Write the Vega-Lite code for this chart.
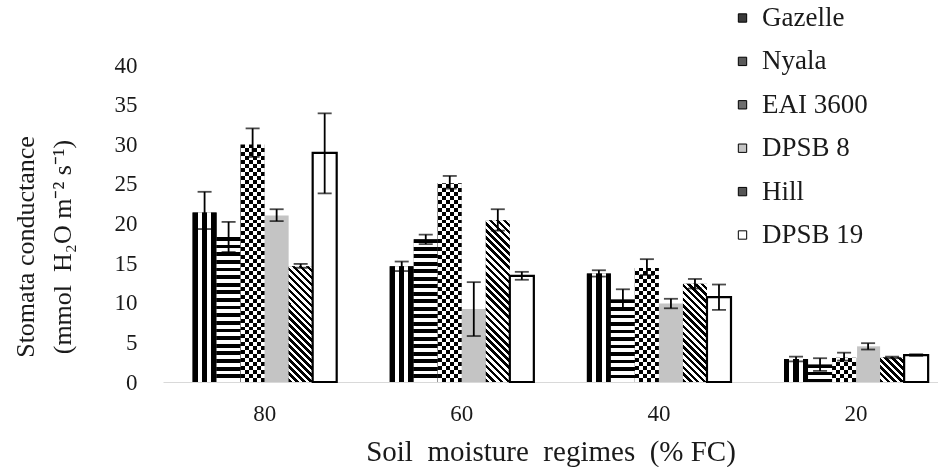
{
  "$schema": "https://vega.github.io/schema/vega-lite/v6.json",
  "width": 775,
  "height": 317,
  "autosize": {"type": "none"},
  "padding": {"left": 163, "top": 65, "right": 0, "bottom": 85},
  "background": "white",
  "config": {
    "view": {"stroke": null},
    "font": "Liberation Serif",
    "axisX": {"domainColor": "#d9d9d9", "domainWidth": 1, "ticks": false, "tickSize": 0, "grid": false, "labelFont": "Liberation Serif", "labelFontSize": 23, "labelColor": "#1a1a1a", "labelPadding": 38, "labelBaseline": "alphabetic", "labelAngle": 0, "titleFont": "Liberation Serif", "titleFontSize": 29, "titleFontWeight": "normal", "titleColor": "#1a1a1a", "titleBaseline": "alphabetic", "titleY": 78},
    "axisY": {"domain": false, "ticks": false, "tickSize": 0, "grid": false, "labelFont": "Liberation Serif", "labelFontSize": 23, "labelColor": "#1a1a1a", "labelPadding": 26, "titleFont": "Liberation Serif", "titleFontSize": 26, "titleFontWeight": "normal", "titleColor": "#1a1a1a", "titleLineHeight": 37, "titleX": -130, "titleY": 181.5, "titleBaseline": "alphabetic", "titleAlign": "center"}
  },
  "data": {"values": [
    {"regime": "80", "variety": "Gazelle", "mean": 21.4, "lo": 19.3, "hi": 24.0},
    {"regime": "80", "variety": "Nyala", "mean": 18.3, "lo": 16.4, "hi": 20.2},
    {"regime": "80", "variety": "EAI 3600", "mean": 30.1, "lo": 28.4, "hi": 32.0},
    {"regime": "80", "variety": "DPSB 8", "mean": 21.0, "lo": 20.3, "hi": 21.8},
    {"regime": "80", "variety": "Hill", "mean": 14.6, "lo": 14.4, "hi": 14.9},
    {"regime": "80", "variety": "DPSB 19", "mean": 28.9, "lo": 23.8, "hi": 33.9},
    {"regime": "60", "variety": "Gazelle", "mean": 14.6, "lo": 14.0, "hi": 15.2},
    {"regime": "60", "variety": "Nyala", "mean": 18.0, "lo": 17.4, "hi": 18.6},
    {"regime": "60", "variety": "EAI 3600", "mean": 25.2, "lo": 24.4, "hi": 26.0},
    {"regime": "60", "variety": "DPSB 8", "mean": 9.2, "lo": 5.8, "hi": 12.6},
    {"regime": "60", "variety": "Hill", "mean": 20.4, "lo": 19.1, "hi": 21.8},
    {"regime": "60", "variety": "DPSB 19", "mean": 13.4, "lo": 12.9, "hi": 13.9},
    {"regime": "40", "variety": "Gazelle", "mean": 13.7, "lo": 13.3, "hi": 14.1},
    {"regime": "40", "variety": "Nyala", "mean": 10.4, "lo": 9.2, "hi": 11.7},
    {"regime": "40", "variety": "EAI 3600", "mean": 14.5, "lo": 13.5, "hi": 15.5},
    {"regime": "40", "variety": "DPSB 8", "mean": 9.9, "lo": 9.3, "hi": 10.5},
    {"regime": "40", "variety": "Hill", "mean": 12.4, "lo": 11.8, "hi": 13.0},
    {"regime": "40", "variety": "DPSB 19", "mean": 10.7, "lo": 9.1, "hi": 12.3},
    {"regime": "20", "variety": "Gazelle", "mean": 2.9, "lo": 2.6, "hi": 3.2},
    {"regime": "20", "variety": "Nyala", "mean": 2.2, "lo": 1.4, "hi": 3.0},
    {"regime": "20", "variety": "EAI 3600", "mean": 3.2, "lo": 2.7, "hi": 3.7},
    {"regime": "20", "variety": "DPSB 8", "mean": 4.5, "lo": 4.1, "hi": 4.9},
    {"regime": "20", "variety": "Hill", "mean": 3.1, "lo": 3.0, "hi": 3.2},
    {"regime": "20", "variety": "DPSB 19", "mean": 3.4, "lo": 3.3, "hi": 3.5}
  ]},
  "encoding": {
    "x": {"field": "regime", "type": "nominal", "sort": ["80", "60", "40", "20"], "scale": {"domain": ["80", "60", "40", "20"], "paddingInner": 0.269, "paddingOuter": 0.1, "align": 0.75}, "axis": {"title": "Soil\u00a0 moisture\u00a0 regimes\u00a0 (% FC)"}},
    "xOffset": {"field": "variety", "type": "nominal", "sort": ["Gazelle", "Nyala", "EAI 3600", "DPSB 8", "Hill", "DPSB 19"], "scale": {"domain": ["Gazelle", "Nyala", "EAI 3600", "DPSB 8", "Hill", "DPSB 19"], "paddingInner": 0, "paddingOuter": 0}},
    "y": {"field": "mean", "type": "quantitative", "scale": {"domain": [0, 40], "nice": false, "zero": true}, "axis": {"title": ["Stomata conductance", "(mmol\u00a0 H₂O m⁻² s⁻¹)"], "values": [0, 5, 10, 15, 20, 25, 30, 35, 40]}}
  },
  "layer": [
    {
      "mark": {"type": "bar"},
      "encoding": {
        "fill": {"field": "variety", "type": "nominal", "scale": {"domain": ["Gazelle", "Nyala", "EAI 3600", "DPSB 8", "Hill", "DPSB 19"], "range": ["#3a3a3a", "#5a5a5a", "#6e6e6e", "#c4c4c4", "#555555", "#ffffff"]}, "legend": {"orient": "none", "legendX": 566, "legendY": -60.5, "title": null, "symbolType": "square", "symbolSize": 70, "symbolStrokeColor": "#000", "symbolStrokeWidth": 1, "labelFont": "Liberation Serif", "labelFontSize": 27, "labelColor": "#1a1a1a", "rowPadding": 15.4, "labelOffset": 6, "padding": 0}}
      }
    },
    {
      "transform": [{"filter": "datum.variety === 'Gazelle'"}],
      "mark": {"type": "bar", "fill": {"gradient": "linear", "x1": 0, "y1": 0, "x2": 1, "y2": 0, "stops": [
        {"offset": 0, "color": "#000"}, {"offset": 0.22, "color": "#000"}, {"offset": 0.22, "color": "#fff"}, {"offset": 0.39, "color": "#fff"}, {"offset": 0.39, "color": "#000"}, {"offset": 0.61, "color": "#000"}, {"offset": 0.61, "color": "#fff"}, {"offset": 0.78, "color": "#fff"}, {"offset": 0.78, "color": "#000"}, {"offset": 1, "color": "#000"}]}}
    },
    {
      "transform": [{"filter": "datum.variety === 'Nyala' && (datum.regime === '80' || datum.regime === '60')"}],
      "mark": {"type": "bar", "fill": {"gradient": "linear", "x1": 0, "y1": 0, "x2": 0, "y2": 1, "stops": [
        {"offset": 0, "color": "#000"}, {"offset": 0.0263, "color": "#000"},
        {"offset": 0.0263, "color": "#fff"}, {"offset": 0.0526, "color": "#fff"},
        {"offset": 0.0526, "color": "#000"}, {"offset": 0.0789, "color": "#000"},
        {"offset": 0.0789, "color": "#fff"}, {"offset": 0.1053, "color": "#fff"},
        {"offset": 0.1053, "color": "#000"}, {"offset": 0.1316, "color": "#000"},
        {"offset": 0.1316, "color": "#fff"}, {"offset": 0.1579, "color": "#fff"},
        {"offset": 0.1579, "color": "#000"}, {"offset": 0.1842, "color": "#000"},
        {"offset": 0.1842, "color": "#fff"}, {"offset": 0.2105, "color": "#fff"},
        {"offset": 0.2105, "color": "#000"}, {"offset": 0.2368, "color": "#000"},
        {"offset": 0.2368, "color": "#fff"}, {"offset": 0.2632, "color": "#fff"},
        {"offset": 0.2632, "color": "#000"}, {"offset": 0.2895, "color": "#000"},
        {"offset": 0.2895, "color": "#fff"}, {"offset": 0.3158, "color": "#fff"},
        {"offset": 0.3158, "color": "#000"}, {"offset": 0.3421, "color": "#000"},
        {"offset": 0.3421, "color": "#fff"}, {"offset": 0.3684, "color": "#fff"},
        {"offset": 0.3684, "color": "#000"}, {"offset": 0.3947, "color": "#000"},
        {"offset": 0.3947, "color": "#fff"}, {"offset": 0.4211, "color": "#fff"},
        {"offset": 0.4211, "color": "#000"}, {"offset": 0.4474, "color": "#000"},
        {"offset": 0.4474, "color": "#fff"}, {"offset": 0.4737, "color": "#fff"},
        {"offset": 0.4737, "color": "#000"}, {"offset": 0.5, "color": "#000"},
        {"offset": 0.5, "color": "#fff"}, {"offset": 0.5263, "color": "#fff"},
        {"offset": 0.5263, "color": "#000"}, {"offset": 0.5526, "color": "#000"},
        {"offset": 0.5526, "color": "#fff"}, {"offset": 0.5789, "color": "#fff"},
        {"offset": 0.5789, "color": "#000"}, {"offset": 0.6053, "color": "#000"},
        {"offset": 0.6053, "color": "#fff"}, {"offset": 0.6316, "color": "#fff"},
        {"offset": 0.6316, "color": "#000"}, {"offset": 0.6579, "color": "#000"},
        {"offset": 0.6579, "color": "#fff"}, {"offset": 0.6842, "color": "#fff"},
        {"offset": 0.6842, "color": "#000"}, {"offset": 0.7105, "color": "#000"},
        {"offset": 0.7105, "color": "#fff"}, {"offset": 0.7368, "color": "#fff"},
        {"offset": 0.7368, "color": "#000"}, {"offset": 0.7632, "color": "#000"},
        {"offset": 0.7632, "color": "#fff"}, {"offset": 0.7895, "color": "#fff"},
        {"offset": 0.7895, "color": "#000"}, {"offset": 0.8158, "color": "#000"},
        {"offset": 0.8158, "color": "#fff"}, {"offset": 0.8421, "color": "#fff"},
        {"offset": 0.8421, "color": "#000"}, {"offset": 0.8684, "color": "#000"},
        {"offset": 0.8684, "color": "#fff"}, {"offset": 0.8947, "color": "#fff"},
        {"offset": 0.8947, "color": "#000"}, {"offset": 0.9211, "color": "#000"},
        {"offset": 0.9211, "color": "#fff"}, {"offset": 0.9474, "color": "#fff"},
        {"offset": 0.9474, "color": "#000"}, {"offset": 0.9737, "color": "#000"},
        {"offset": 0.9737, "color": "#fff"}, {"offset": 1, "color": "#fff"}]}}
    },
    {
      "transform": [{"filter": "datum.variety === 'Nyala' && datum.regime === '40'"}],
      "mark": {"type": "bar", "fill": {"gradient": "linear", "x1": 0, "y1": 0, "x2": 0, "y2": 1, "stops": [
        {"offset": 0, "color": "#000"}, {"offset": 0.0455, "color": "#000"},
        {"offset": 0.0455, "color": "#fff"}, {"offset": 0.0909, "color": "#fff"},
        {"offset": 0.0909, "color": "#000"}, {"offset": 0.1364, "color": "#000"},
        {"offset": 0.1364, "color": "#fff"}, {"offset": 0.1818, "color": "#fff"},
        {"offset": 0.1818, "color": "#000"}, {"offset": 0.2273, "color": "#000"},
        {"offset": 0.2273, "color": "#fff"}, {"offset": 0.2727, "color": "#fff"},
        {"offset": 0.2727, "color": "#000"}, {"offset": 0.3182, "color": "#000"},
        {"offset": 0.3182, "color": "#fff"}, {"offset": 0.3636, "color": "#fff"},
        {"offset": 0.3636, "color": "#000"}, {"offset": 0.4091, "color": "#000"},
        {"offset": 0.4091, "color": "#fff"}, {"offset": 0.4545, "color": "#fff"},
        {"offset": 0.4545, "color": "#000"}, {"offset": 0.5, "color": "#000"},
        {"offset": 0.5, "color": "#fff"}, {"offset": 0.5455, "color": "#fff"},
        {"offset": 0.5455, "color": "#000"}, {"offset": 0.5909, "color": "#000"},
        {"offset": 0.5909, "color": "#fff"}, {"offset": 0.6364, "color": "#fff"},
        {"offset": 0.6364, "color": "#000"}, {"offset": 0.6818, "color": "#000"},
        {"offset": 0.6818, "color": "#fff"}, {"offset": 0.7273, "color": "#fff"},
        {"offset": 0.7273, "color": "#000"}, {"offset": 0.7727, "color": "#000"},
        {"offset": 0.7727, "color": "#fff"}, {"offset": 0.8182, "color": "#fff"},
        {"offset": 0.8182, "color": "#000"}, {"offset": 0.8636, "color": "#000"},
        {"offset": 0.8636, "color": "#fff"}, {"offset": 0.9091, "color": "#fff"},
        {"offset": 0.9091, "color": "#000"}, {"offset": 0.9545, "color": "#000"},
        {"offset": 0.9545, "color": "#fff"}, {"offset": 1, "color": "#fff"}]}}
    },
    {
      "transform": [{"filter": "datum.variety === 'Nyala' && datum.regime === '20'"}],
      "mark": {"type": "bar", "fill": {"gradient": "linear", "x1": 0, "y1": 0, "x2": 0, "y2": 1, "stops": [
        {"offset": 0, "color": "#000"}, {"offset": 0.2, "color": "#000"}, {"offset": 0.2, "color": "#fff"}, {"offset": 0.4, "color": "#fff"}, {"offset": 0.4, "color": "#000"}, {"offset": 0.6, "color": "#000"}, {"offset": 0.6, "color": "#fff"}, {"offset": 0.8, "color": "#fff"}, {"offset": 0.8, "color": "#000"}, {"offset": 1, "color": "#000"}]}}
    },
    {
      "transform": [{"filter": "datum.variety === 'EAI 3600'"}],
      "mark": {"type": "bar", "fill": {"gradient": "linear", "x1": 0, "y1": 0, "x2": 1, "y2": 0, "stops": [
        {"offset": 0, "color": "#000"}, {"offset": 0.1667, "color": "#000"},
        {"offset": 0.1667, "color": "#fff"}, {"offset": 0.3333, "color": "#fff"},
        {"offset": 0.3333, "color": "#000"}, {"offset": 0.5, "color": "#000"},
        {"offset": 0.5, "color": "#fff"}, {"offset": 0.6667, "color": "#fff"},
        {"offset": 0.6667, "color": "#000"}, {"offset": 0.8333, "color": "#000"},
        {"offset": 0.8333, "color": "#fff"}, {"offset": 1, "color": "#fff"}]}},
      "encoding": {"y": {"datum": 40, "type": "quantitative"}, "y2": {"datum": 0}}
    },
    {
      "transform": [{"filter": "datum.variety === 'EAI 3600'"}],
      "mark": {"type": "bar", "blend": "difference", "fill": {"gradient": "linear", "x1": 0, "y1": 0, "x2": 0, "y2": 1, "stops": [
        {"offset": 0, "color": "#000"}, {"offset": 0.0125, "color": "#000"}, {"offset": 0.0125, "color": "#fff"}, {"offset": 0.025, "color": "#fff"},
        {"offset": 0.025, "color": "#000"}, {"offset": 0.0375, "color": "#000"}, {"offset": 0.0375, "color": "#fff"}, {"offset": 0.05, "color": "#fff"},
        {"offset": 0.05, "color": "#000"}, {"offset": 0.0625, "color": "#000"}, {"offset": 0.0625, "color": "#fff"}, {"offset": 0.075, "color": "#fff"},
        {"offset": 0.075, "color": "#000"}, {"offset": 0.0875, "color": "#000"}, {"offset": 0.0875, "color": "#fff"}, {"offset": 0.1, "color": "#fff"},
        {"offset": 0.1, "color": "#000"}, {"offset": 0.1125, "color": "#000"}, {"offset": 0.1125, "color": "#fff"}, {"offset": 0.125, "color": "#fff"},
        {"offset": 0.125, "color": "#000"}, {"offset": 0.1375, "color": "#000"}, {"offset": 0.1375, "color": "#fff"}, {"offset": 0.15, "color": "#fff"},
        {"offset": 0.15, "color": "#000"}, {"offset": 0.1625, "color": "#000"}, {"offset": 0.1625, "color": "#fff"}, {"offset": 0.175, "color": "#fff"},
        {"offset": 0.175, "color": "#000"}, {"offset": 0.1875, "color": "#000"}, {"offset": 0.1875, "color": "#fff"}, {"offset": 0.2, "color": "#fff"},
        {"offset": 0.2, "color": "#000"}, {"offset": 0.2125, "color": "#000"}, {"offset": 0.2125, "color": "#fff"}, {"offset": 0.225, "color": "#fff"},
        {"offset": 0.225, "color": "#000"}, {"offset": 0.2375, "color": "#000"}, {"offset": 0.2375, "color": "#fff"}, {"offset": 0.25, "color": "#fff"},
        {"offset": 0.25, "color": "#000"}, {"offset": 0.2625, "color": "#000"}, {"offset": 0.2625, "color": "#fff"}, {"offset": 0.275, "color": "#fff"},
        {"offset": 0.275, "color": "#000"}, {"offset": 0.2875, "color": "#000"}, {"offset": 0.2875, "color": "#fff"}, {"offset": 0.3, "color": "#fff"},
        {"offset": 0.3, "color": "#000"}, {"offset": 0.3125, "color": "#000"}, {"offset": 0.3125, "color": "#fff"}, {"offset": 0.325, "color": "#fff"},
        {"offset": 0.325, "color": "#000"}, {"offset": 0.3375, "color": "#000"}, {"offset": 0.3375, "color": "#fff"}, {"offset": 0.35, "color": "#fff"},
        {"offset": 0.35, "color": "#000"}, {"offset": 0.3625, "color": "#000"}, {"offset": 0.3625, "color": "#fff"}, {"offset": 0.375, "color": "#fff"},
        {"offset": 0.375, "color": "#000"}, {"offset": 0.3875, "color": "#000"}, {"offset": 0.3875, "color": "#fff"}, {"offset": 0.4, "color": "#fff"},
        {"offset": 0.4, "color": "#000"}, {"offset": 0.4125, "color": "#000"}, {"offset": 0.4125, "color": "#fff"}, {"offset": 0.425, "color": "#fff"},
        {"offset": 0.425, "color": "#000"}, {"offset": 0.4375, "color": "#000"}, {"offset": 0.4375, "color": "#fff"}, {"offset": 0.45, "color": "#fff"},
        {"offset": 0.45, "color": "#000"}, {"offset": 0.4625, "color": "#000"}, {"offset": 0.4625, "color": "#fff"}, {"offset": 0.475, "color": "#fff"},
        {"offset": 0.475, "color": "#000"}, {"offset": 0.4875, "color": "#000"}, {"offset": 0.4875, "color": "#fff"}, {"offset": 0.5, "color": "#fff"},
        {"offset": 0.5, "color": "#000"}, {"offset": 0.5125, "color": "#000"}, {"offset": 0.5125, "color": "#fff"}, {"offset": 0.525, "color": "#fff"},
        {"offset": 0.525, "color": "#000"}, {"offset": 0.5375, "color": "#000"}, {"offset": 0.5375, "color": "#fff"}, {"offset": 0.55, "color": "#fff"},
        {"offset": 0.55, "color": "#000"}, {"offset": 0.5625, "color": "#000"}, {"offset": 0.5625, "color": "#fff"}, {"offset": 0.575, "color": "#fff"},
        {"offset": 0.575, "color": "#000"}, {"offset": 0.5875, "color": "#000"}, {"offset": 0.5875, "color": "#fff"}, {"offset": 0.6, "color": "#fff"},
        {"offset": 0.6, "color": "#000"}, {"offset": 0.6125, "color": "#000"}, {"offset": 0.6125, "color": "#fff"}, {"offset": 0.625, "color": "#fff"},
        {"offset": 0.625, "color": "#000"}, {"offset": 0.6375, "color": "#000"}, {"offset": 0.6375, "color": "#fff"}, {"offset": 0.65, "color": "#fff"},
        {"offset": 0.65, "color": "#000"}, {"offset": 0.6625, "color": "#000"}, {"offset": 0.6625, "color": "#fff"}, {"offset": 0.675, "color": "#fff"},
        {"offset": 0.675, "color": "#000"}, {"offset": 0.6875, "color": "#000"}, {"offset": 0.6875, "color": "#fff"}, {"offset": 0.7, "color": "#fff"},
        {"offset": 0.7, "color": "#000"}, {"offset": 0.7125, "color": "#000"}, {"offset": 0.7125, "color": "#fff"}, {"offset": 0.725, "color": "#fff"},
        {"offset": 0.725, "color": "#000"}, {"offset": 0.7375, "color": "#000"}, {"offset": 0.7375, "color": "#fff"}, {"offset": 0.75, "color": "#fff"},
        {"offset": 0.75, "color": "#000"}, {"offset": 0.7625, "color": "#000"}, {"offset": 0.7625, "color": "#fff"}, {"offset": 0.775, "color": "#fff"},
        {"offset": 0.775, "color": "#000"}, {"offset": 0.7875, "color": "#000"}, {"offset": 0.7875, "color": "#fff"}, {"offset": 0.8, "color": "#fff"},
        {"offset": 0.8, "color": "#000"}, {"offset": 0.8125, "color": "#000"}, {"offset": 0.8125, "color": "#fff"}, {"offset": 0.825, "color": "#fff"},
        {"offset": 0.825, "color": "#000"}, {"offset": 0.8375, "color": "#000"}, {"offset": 0.8375, "color": "#fff"}, {"offset": 0.85, "color": "#fff"},
        {"offset": 0.85, "color": "#000"}, {"offset": 0.8625, "color": "#000"}, {"offset": 0.8625, "color": "#fff"}, {"offset": 0.875, "color": "#fff"},
        {"offset": 0.875, "color": "#000"}, {"offset": 0.8875, "color": "#000"}, {"offset": 0.8875, "color": "#fff"}, {"offset": 0.9, "color": "#fff"},
        {"offset": 0.9, "color": "#000"}, {"offset": 0.9125, "color": "#000"}, {"offset": 0.9125, "color": "#fff"}, {"offset": 0.925, "color": "#fff"},
        {"offset": 0.925, "color": "#000"}, {"offset": 0.9375, "color": "#000"}, {"offset": 0.9375, "color": "#fff"}, {"offset": 0.95, "color": "#fff"},
        {"offset": 0.95, "color": "#000"}, {"offset": 0.9625, "color": "#000"}, {"offset": 0.9625, "color": "#fff"}, {"offset": 0.975, "color": "#fff"},
        {"offset": 0.975, "color": "#000"}, {"offset": 0.9875, "color": "#000"}, {"offset": 0.9875, "color": "#fff"}, {"offset": 1, "color": "#fff"}]}},
      "encoding": {"y": {"datum": 40, "type": "quantitative"}, "y2": {"datum": 0}}
    },
    {
      "transform": [{"filter": "datum.variety === 'EAI 3600'"}],
      "mark": {"type": "bar", "fill": "#fff", "stroke": "#fff", "strokeWidth": 2},
      "encoding": {"y": {"field": "mean", "type": "quantitative"}, "y2": {"datum": 40}}
    },
    {
      "transform": [{"filter": "datum.variety === 'Hill' && datum.regime === '80'"}],
      "mark": {"type": "bar", "fill": {"gradient": "linear", "x1": 0, "y1": 1, "x2": 0.2404, "y2": -0.1578, "stops": [
        {"offset": 0, "color": "#000"}, {"offset": 0.025, "color": "#000"},
        {"offset": 0.025, "color": "#fff"}, {"offset": 0.05, "color": "#fff"},
        {"offset": 0.05, "color": "#000"}, {"offset": 0.075, "color": "#000"},
        {"offset": 0.075, "color": "#fff"}, {"offset": 0.1, "color": "#fff"},
        {"offset": 0.1, "color": "#000"}, {"offset": 0.125, "color": "#000"},
        {"offset": 0.125, "color": "#fff"}, {"offset": 0.15, "color": "#fff"},
        {"offset": 0.15, "color": "#000"}, {"offset": 0.175, "color": "#000"},
        {"offset": 0.175, "color": "#fff"}, {"offset": 0.2, "color": "#fff"},
        {"offset": 0.2, "color": "#000"}, {"offset": 0.225, "color": "#000"},
        {"offset": 0.225, "color": "#fff"}, {"offset": 0.25, "color": "#fff"},
        {"offset": 0.25, "color": "#000"}, {"offset": 0.275, "color": "#000"},
        {"offset": 0.275, "color": "#fff"}, {"offset": 0.3, "color": "#fff"},
        {"offset": 0.3, "color": "#000"}, {"offset": 0.325, "color": "#000"},
        {"offset": 0.325, "color": "#fff"}, {"offset": 0.35, "color": "#fff"},
        {"offset": 0.35, "color": "#000"}, {"offset": 0.375, "color": "#000"},
        {"offset": 0.375, "color": "#fff"}, {"offset": 0.4, "color": "#fff"},
        {"offset": 0.4, "color": "#000"}, {"offset": 0.425, "color": "#000"},
        {"offset": 0.425, "color": "#fff"}, {"offset": 0.45, "color": "#fff"},
        {"offset": 0.45, "color": "#000"}, {"offset": 0.475, "color": "#000"},
        {"offset": 0.475, "color": "#fff"}, {"offset": 0.5, "color": "#fff"},
        {"offset": 0.5, "color": "#000"}, {"offset": 0.525, "color": "#000"},
        {"offset": 0.525, "color": "#fff"}, {"offset": 0.55, "color": "#fff"},
        {"offset": 0.55, "color": "#000"}, {"offset": 0.575, "color": "#000"},
        {"offset": 0.575, "color": "#fff"}, {"offset": 0.6, "color": "#fff"},
        {"offset": 0.6, "color": "#000"}, {"offset": 0.625, "color": "#000"},
        {"offset": 0.625, "color": "#fff"}, {"offset": 0.65, "color": "#fff"},
        {"offset": 0.65, "color": "#000"}, {"offset": 0.675, "color": "#000"},
        {"offset": 0.675, "color": "#fff"}, {"offset": 0.7, "color": "#fff"},
        {"offset": 0.7, "color": "#000"}, {"offset": 0.725, "color": "#000"},
        {"offset": 0.725, "color": "#fff"}, {"offset": 0.75, "color": "#fff"},
        {"offset": 0.75, "color": "#000"}, {"offset": 0.775, "color": "#000"},
        {"offset": 0.775, "color": "#fff"}, {"offset": 0.8, "color": "#fff"},
        {"offset": 0.8, "color": "#000"}, {"offset": 0.825, "color": "#000"},
        {"offset": 0.825, "color": "#fff"}, {"offset": 0.85, "color": "#fff"},
        {"offset": 0.85, "color": "#000"}, {"offset": 0.875, "color": "#000"},
        {"offset": 0.875, "color": "#fff"}, {"offset": 0.9, "color": "#fff"},
        {"offset": 0.9, "color": "#000"}, {"offset": 0.925, "color": "#000"},
        {"offset": 0.925, "color": "#fff"}, {"offset": 0.95, "color": "#fff"},
        {"offset": 0.95, "color": "#000"}, {"offset": 0.975, "color": "#000"},
        {"offset": 0.975, "color": "#fff"}, {"offset": 1, "color": "#fff"}]}}
    },
    {
      "transform": [{"filter": "datum.variety === 'Hill' && datum.regime === '60'"}],
      "mark": {"type": "bar", "fill": {"gradient": "linear", "x1": 0, "y1": 1, "x2": 0.167, "y2": -0.1238, "stops": [
        {"offset": 0, "color": "#000"}, {"offset": 0.0192, "color": "#000"},
        {"offset": 0.0192, "color": "#fff"}, {"offset": 0.0385, "color": "#fff"},
        {"offset": 0.0385, "color": "#000"}, {"offset": 0.0577, "color": "#000"},
        {"offset": 0.0577, "color": "#fff"}, {"offset": 0.0769, "color": "#fff"},
        {"offset": 0.0769, "color": "#000"}, {"offset": 0.0962, "color": "#000"},
        {"offset": 0.0962, "color": "#fff"}, {"offset": 0.1154, "color": "#fff"},
        {"offset": 0.1154, "color": "#000"}, {"offset": 0.1346, "color": "#000"},
        {"offset": 0.1346, "color": "#fff"}, {"offset": 0.1538, "color": "#fff"},
        {"offset": 0.1538, "color": "#000"}, {"offset": 0.1731, "color": "#000"},
        {"offset": 0.1731, "color": "#fff"}, {"offset": 0.1923, "color": "#fff"},
        {"offset": 0.1923, "color": "#000"}, {"offset": 0.2115, "color": "#000"},
        {"offset": 0.2115, "color": "#fff"}, {"offset": 0.2308, "color": "#fff"},
        {"offset": 0.2308, "color": "#000"}, {"offset": 0.25, "color": "#000"},
        {"offset": 0.25, "color": "#fff"}, {"offset": 0.2692, "color": "#fff"},
        {"offset": 0.2692, "color": "#000"}, {"offset": 0.2885, "color": "#000"},
        {"offset": 0.2885, "color": "#fff"}, {"offset": 0.3077, "color": "#fff"},
        {"offset": 0.3077, "color": "#000"}, {"offset": 0.3269, "color": "#000"},
        {"offset": 0.3269, "color": "#fff"}, {"offset": 0.3462, "color": "#fff"},
        {"offset": 0.3462, "color": "#000"}, {"offset": 0.3654, "color": "#000"},
        {"offset": 0.3654, "color": "#fff"}, {"offset": 0.3846, "color": "#fff"},
        {"offset": 0.3846, "color": "#000"}, {"offset": 0.4038, "color": "#000"},
        {"offset": 0.4038, "color": "#fff"}, {"offset": 0.4231, "color": "#fff"},
        {"offset": 0.4231, "color": "#000"}, {"offset": 0.4423, "color": "#000"},
        {"offset": 0.4423, "color": "#fff"}, {"offset": 0.4615, "color": "#fff"},
        {"offset": 0.4615, "color": "#000"}, {"offset": 0.4808, "color": "#000"},
        {"offset": 0.4808, "color": "#fff"}, {"offset": 0.5, "color": "#fff"},
        {"offset": 0.5, "color": "#000"}, {"offset": 0.5192, "color": "#000"},
        {"offset": 0.5192, "color": "#fff"}, {"offset": 0.5385, "color": "#fff"},
        {"offset": 0.5385, "color": "#000"}, {"offset": 0.5577, "color": "#000"},
        {"offset": 0.5577, "color": "#fff"}, {"offset": 0.5769, "color": "#fff"},
        {"offset": 0.5769, "color": "#000"}, {"offset": 0.5962, "color": "#000"},
        {"offset": 0.5962, "color": "#fff"}, {"offset": 0.6154, "color": "#fff"},
        {"offset": 0.6154, "color": "#000"}, {"offset": 0.6346, "color": "#000"},
        {"offset": 0.6346, "color": "#fff"}, {"offset": 0.6538, "color": "#fff"},
        {"offset": 0.6538, "color": "#000"}, {"offset": 0.6731, "color": "#000"},
        {"offset": 0.6731, "color": "#fff"}, {"offset": 0.6923, "color": "#fff"},
        {"offset": 0.6923, "color": "#000"}, {"offset": 0.7115, "color": "#000"},
        {"offset": 0.7115, "color": "#fff"}, {"offset": 0.7308, "color": "#fff"},
        {"offset": 0.7308, "color": "#000"}, {"offset": 0.75, "color": "#000"},
        {"offset": 0.75, "color": "#fff"}, {"offset": 0.7692, "color": "#fff"},
        {"offset": 0.7692, "color": "#000"}, {"offset": 0.7885, "color": "#000"},
        {"offset": 0.7885, "color": "#fff"}, {"offset": 0.8077, "color": "#fff"},
        {"offset": 0.8077, "color": "#000"}, {"offset": 0.8269, "color": "#000"},
        {"offset": 0.8269, "color": "#fff"}, {"offset": 0.8462, "color": "#fff"},
        {"offset": 0.8462, "color": "#000"}, {"offset": 0.8654, "color": "#000"},
        {"offset": 0.8654, "color": "#fff"}, {"offset": 0.8846, "color": "#fff"},
        {"offset": 0.8846, "color": "#000"}, {"offset": 0.9038, "color": "#000"},
        {"offset": 0.9038, "color": "#fff"}, {"offset": 0.9231, "color": "#fff"},
        {"offset": 0.9231, "color": "#000"}, {"offset": 0.9423, "color": "#000"},
        {"offset": 0.9423, "color": "#fff"}, {"offset": 0.9615, "color": "#fff"},
        {"offset": 0.9615, "color": "#000"}, {"offset": 0.9808, "color": "#000"},
        {"offset": 0.9808, "color": "#fff"}, {"offset": 1, "color": "#fff"}]}}
    },
    {
      "transform": [{"filter": "datum.variety === 'Hill' && datum.regime === '40'"}],
      "mark": {"type": "bar", "fill": {"gradient": "linear", "x1": 0, "y1": 1, "x2": 0.287, "y2": -0.1743, "stops": [
        {"offset": 0, "color": "#000"}, {"offset": 0.0278, "color": "#000"},
        {"offset": 0.0278, "color": "#fff"}, {"offset": 0.0556, "color": "#fff"},
        {"offset": 0.0556, "color": "#000"}, {"offset": 0.0833, "color": "#000"},
        {"offset": 0.0833, "color": "#fff"}, {"offset": 0.1111, "color": "#fff"},
        {"offset": 0.1111, "color": "#000"}, {"offset": 0.1389, "color": "#000"},
        {"offset": 0.1389, "color": "#fff"}, {"offset": 0.1667, "color": "#fff"},
        {"offset": 0.1667, "color": "#000"}, {"offset": 0.1944, "color": "#000"},
        {"offset": 0.1944, "color": "#fff"}, {"offset": 0.2222, "color": "#fff"},
        {"offset": 0.2222, "color": "#000"}, {"offset": 0.25, "color": "#000"},
        {"offset": 0.25, "color": "#fff"}, {"offset": 0.2778, "color": "#fff"},
        {"offset": 0.2778, "color": "#000"}, {"offset": 0.3056, "color": "#000"},
        {"offset": 0.3056, "color": "#fff"}, {"offset": 0.3333, "color": "#fff"},
        {"offset": 0.3333, "color": "#000"}, {"offset": 0.3611, "color": "#000"},
        {"offset": 0.3611, "color": "#fff"}, {"offset": 0.3889, "color": "#fff"},
        {"offset": 0.3889, "color": "#000"}, {"offset": 0.4167, "color": "#000"},
        {"offset": 0.4167, "color": "#fff"}, {"offset": 0.4444, "color": "#fff"},
        {"offset": 0.4444, "color": "#000"}, {"offset": 0.4722, "color": "#000"},
        {"offset": 0.4722, "color": "#fff"}, {"offset": 0.5, "color": "#fff"},
        {"offset": 0.5, "color": "#000"}, {"offset": 0.5278, "color": "#000"},
        {"offset": 0.5278, "color": "#fff"}, {"offset": 0.5556, "color": "#fff"},
        {"offset": 0.5556, "color": "#000"}, {"offset": 0.5833, "color": "#000"},
        {"offset": 0.5833, "color": "#fff"}, {"offset": 0.6111, "color": "#fff"},
        {"offset": 0.6111, "color": "#000"}, {"offset": 0.6389, "color": "#000"},
        {"offset": 0.6389, "color": "#fff"}, {"offset": 0.6667, "color": "#fff"},
        {"offset": 0.6667, "color": "#000"}, {"offset": 0.6944, "color": "#000"},
        {"offset": 0.6944, "color": "#fff"}, {"offset": 0.7222, "color": "#fff"},
        {"offset": 0.7222, "color": "#000"}, {"offset": 0.75, "color": "#000"},
        {"offset": 0.75, "color": "#fff"}, {"offset": 0.7778, "color": "#fff"},
        {"offset": 0.7778, "color": "#000"}, {"offset": 0.8056, "color": "#000"},
        {"offset": 0.8056, "color": "#fff"}, {"offset": 0.8333, "color": "#fff"},
        {"offset": 0.8333, "color": "#000"}, {"offset": 0.8611, "color": "#000"},
        {"offset": 0.8611, "color": "#fff"}, {"offset": 0.8889, "color": "#fff"},
        {"offset": 0.8889, "color": "#000"}, {"offset": 0.9167, "color": "#000"},
        {"offset": 0.9167, "color": "#fff"}, {"offset": 0.9444, "color": "#fff"},
        {"offset": 0.9444, "color": "#000"}, {"offset": 0.9722, "color": "#000"},
        {"offset": 0.9722, "color": "#fff"}, {"offset": 1, "color": "#fff"}]}}
    },
    {
      "transform": [{"filter": "datum.variety === 'Hill' && datum.regime === '20'"}],
      "mark": {"type": "bar", "fill": {"gradient": "linear", "x1": 0, "y1": 1, "x2": 0.9886, "y2": -0.0112, "stops": [
        {"offset": 0, "color": "#000"}, {"offset": 0.0714, "color": "#000"},
        {"offset": 0.0714, "color": "#fff"}, {"offset": 0.1429, "color": "#fff"},
        {"offset": 0.1429, "color": "#000"}, {"offset": 0.2143, "color": "#000"},
        {"offset": 0.2143, "color": "#fff"}, {"offset": 0.2857, "color": "#fff"},
        {"offset": 0.2857, "color": "#000"}, {"offset": 0.3571, "color": "#000"},
        {"offset": 0.3571, "color": "#fff"}, {"offset": 0.4286, "color": "#fff"},
        {"offset": 0.4286, "color": "#000"}, {"offset": 0.5, "color": "#000"},
        {"offset": 0.5, "color": "#fff"}, {"offset": 0.5714, "color": "#fff"},
        {"offset": 0.5714, "color": "#000"}, {"offset": 0.6429, "color": "#000"},
        {"offset": 0.6429, "color": "#fff"}, {"offset": 0.7143, "color": "#fff"},
        {"offset": 0.7143, "color": "#000"}, {"offset": 0.7857, "color": "#000"},
        {"offset": 0.7857, "color": "#fff"}, {"offset": 0.8571, "color": "#fff"},
        {"offset": 0.8571, "color": "#000"}, {"offset": 0.9286, "color": "#000"},
        {"offset": 0.9286, "color": "#fff"}, {"offset": 1, "color": "#fff"}]}}
    },
    {
      "transform": [{"filter": "datum.variety === 'DPSB 19'"}],
      "mark": {"type": "bar", "fill": "#fff", "stroke": "#000", "strokeWidth": 2.2}
    },
    {
      "mark": {"type": "rule", "color": "#000", "strokeWidth": 1.8},
      "encoding": {"y": {"field": "lo", "type": "quantitative"}, "y2": {"field": "hi"}}
    },
    {
      "mark": {"type": "tick", "color": "#000", "size": 14, "thickness": 1.8},
      "encoding": {"y": {"field": "lo", "type": "quantitative"}}
    },
    {
      "mark": {"type": "tick", "color": "#000", "size": 14, "thickness": 1.8},
      "encoding": {"y": {"field": "hi", "type": "quantitative"}}
    }
  ]
}
